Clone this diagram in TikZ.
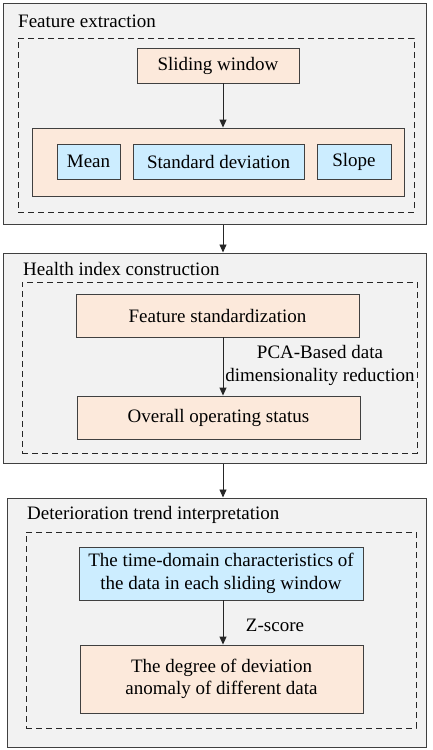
\documentclass[tikz,border=0pt]{standalone}
\usepackage{fontspec}
\setmainfont{Liberation Serif}
\newfontfamily\timesfont{Liberation Serif}
\usepackage{tikz}
\usetikzlibrary{arrows.meta}
\usetikzlibrary{positioning}
\definecolor{peach}{RGB}{252,233,219}
\definecolor{skyblue}{RGB}{204,237,255}
\definecolor{panelgray}{RGB}{242,242,242}
\definecolor{edgegray}{RGB}{64,64,64}
\tikzset{
  panel/.style={draw=edgegray, fill=panelgray, line width=1pt, inner sep=0pt},
  dashbox/.style={draw=black!85, dashed, dash pattern=on 6pt off 4pt, line width=0.9pt, inner sep=0pt},
  peachbox/.style={draw=edgegray, fill=peach, line width=0.9pt, inner sep=0pt, align=center},
  bluebox/.style={draw=edgegray, fill=skyblue, line width=0.9pt, inner sep=0pt, align=center},
  title/.style={anchor=west, inner sep=0pt},
  flow/.style={-{Triangle[length=8pt,width=7pt]}, line width=0.9pt, black!85},
}
\begin{document}
\begin{tikzpicture}[x=1pt,y=-1pt,font=\timesfont\fontsize{19}{22.5}\selectfont]
\useasboundingbox (0,0) rectangle (432,750);
%% feature extraction
\node[panel, minimum width=423pt, minimum height=221pt] (pfeat) at (214.5,113.5) {};
\node[title] (tfeat) at (18,21) {Feature extraction};
\node[dashbox, minimum width=396pt, minimum height=174pt] (dfeat) at (216,125) {};
\node[peachbox, minimum width=162pt, minimum height=35pt] (slide) at (218,65.5) {Sliding window};
\node[peachbox, minimum width=372pt, minimum height=68pt] (stats) at (218,162) {};
\node[bluebox, minimum width=63pt, minimum height=35pt] (mean) at (88.5,161.5) {Mean};
\node[bluebox, minimum width=171pt, minimum height=35pt] (stdev) at (218.5,161.5) {Standard deviation};
\node[bluebox, minimum width=74pt, minimum height=35pt] (slope) at (354,161.5) {Slope};
\draw[flow] ([xshift=5pt]slide.south) -- ([xshift=5pt]slide.south |- stats.north);
%% health index
\node[panel, minimum width=423pt, minimum height=210pt] (phealth) at (214.5,358) {};
\node[title] (thealth) at (23,269) {Health index construction};
\node[dashbox, minimum width=395pt, minimum height=171pt] (dhealth) at (219.5,367.5) {};
\node[peachbox, minimum width=283pt, minimum height=43pt] (stdz) at (217.5,315.5) {Feature standardization};
\node[peachbox, minimum width=283pt, minimum height=43pt] (status) at (218.5,417.5) {Overall operating status};
\draw[flow] ([xshift=5.5pt]stdz.south) -- ([xshift=5.5pt]stdz.south |- status.north);
\node[align=center, inner sep=0pt] (pca) at (320,365.5) {PCA-Based data\\dimensionality reduction};
%% deterioration trend
\node[panel, minimum width=419pt, minimum height=249pt] (ptrend) at (216.5,622.5) {};
\node[title] (ttrend) at (27,515) {Deterioration trend interpretation};
\node[dashbox, minimum width=390pt, minimum height=196pt] (dtrend) at (221,630) {};
\node[bluebox, minimum width=284pt, minimum height=53pt] (timedom) at (221,573.5) {The time-domain characteristics of\\the data in each sliding window};
\node[peachbox, minimum width=283pt, minimum height=68pt] (devia) at (221.5,679) {The degree of deviation\\anomaly of different data};
\draw[flow] ([xshift=2pt]timedom.south) -- ([xshift=2pt]timedom.south |- devia.north);
\node[inner sep=0pt] (zscore) at (275,625) {Z-score};
%% between panels
\draw[flow] (223,0 |- pfeat.south) -- (223,0 |- phealth.north);
\draw[flow] (223,0 |- phealth.south) -- (223,0 |- ptrend.north);
\end{tikzpicture}
\end{document}
